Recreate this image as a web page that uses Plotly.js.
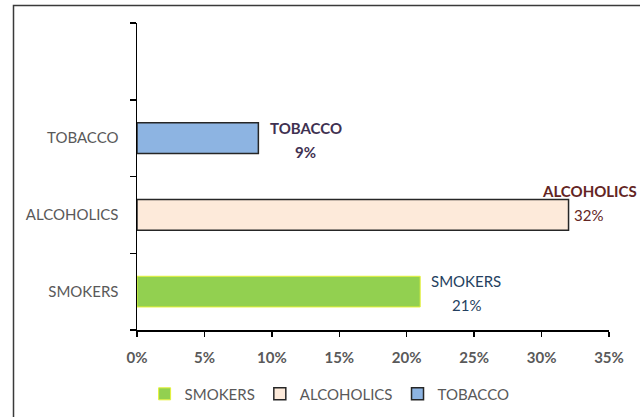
<!DOCTYPE html>
<html>
<head>
<meta charset="utf-8">
<script src="https://cdn.plot.ly/plotly-3.0.1.min.js"></script>
<style>html,body{margin:0;padding:0;background:#fff;}#chart{width:640px;height:417px;}</style>
</head>
<body>
<div id="chart"></div>
<script>
const categories = ['SMOKERS', 'ALCOHOLICS', 'TOBACCO', ' '];
const seriesNames = ['SMOKERS', 'ALCOHOLICS', 'TOBACCO'];
const seriesValues = [21, 32, 9];
const xTickVals = [0, 5, 10, 15, 20, 25, 30, 35];
const xTickText = ['0%', '5%', '10%', '15%', '20%', '25%', '30%', '35%'];

const fills = ['#92D050', '#FDEADA', '#8DB4E2'];
const borders = ['#E6F23A', '#262626', '#262626'];
const labelColors = ['#243F60', '#632523', '#3F3151'];

const FONT = 'Lato, "Open Sans", sans-serif';
const FS = 15;

const traces = seriesNames.map((name, i) => ({
  type: 'bar',
  orientation: 'h',
  name: name,
  y: [categories[i]],
  x: [seriesValues[i]],
  width: 0.4,
  marker: {color: fills[i], line: {color: borders[i], width: i === 0 ? 1 : 1.5}},
  hoverinfo: 'none'
}));

function ann(i, text, xshift, yshift, anchor, bold) {
  return {x: seriesValues[i], y: categories[i], xref: 'x', yref: 'y', showarrow: false,
    text: bold ? '<b>' + text + '</b>' : text, xanchor: anchor, yanchor: 'middle',
    xshift: xshift, yshift: yshift,
    font: {family: FONT, size: FS, color: labelColors[i]}};
}

const annotations = [
  ann(0, seriesNames[0], 46, 11, 'center', false),
  ann(0, seriesValues[0] + '%', 46, -13, 'center', false),
  ann(1, seriesNames[1], -29, 24, 'left', true),
  ann(1, seriesValues[1] + '%', 3, 0, 'left', false),
  ann(2, seriesNames[2], 47.5, 10.5, 'center', true),
  ann(2, seriesValues[2] + '%', 47.5, -13.5, 'center', true)
];

const layout = {
  width: 640, height: 417,
  margin: {l: 137, r: 31, t: 23, b: 87, pad: 0},
  paper_bgcolor: '#ffffff',
  plot_bgcolor: '#ffffff',
  barmode: 'overlay',
  showlegend: true,
  legend: {orientation: 'h', xref: 'container', yref: 'container',
           x: 0.515, xanchor: 'center', y: 0.055, yanchor: 'middle',
           font: {family: FONT, size: FS, color: '#595959'},
           traceorder: 'normal', bgcolor: 'rgba(0,0,0,0)'},
  xaxis: {
    range: [0, 35], tickvals: xTickVals, ticktext: xTickText,
    showgrid: false, zeroline: false, showline: true, linecolor: '#000', linewidth: 1.5,
    ticks: 'outside', ticklen: 5, tickcolor: '#000', tickwidth: 1.5,
    tickfont: {family: FONT, size: FS, color: '#595959', weight: 'bold'},
    ticklabelstandoff: 8,
    fixedrange: true
  },
  yaxis: {
    type: 'category', categoryorder: 'array', categoryarray: categories,
    range: [-0.5, 3.5],
    showgrid: false, zeroline: false, showline: true, linecolor: '#000', linewidth: 1.5,
    ticks: 'outside', ticklen: 6, tickcolor: '#000', tickwidth: 1.5, tickson: 'boundaries',
    tickfont: {family: FONT, size: FS, color: '#595959'},
    ticklabelstandoff: 14,
    fixedrange: true
  },
  shapes: [
    {type: 'rect', xref: 'paper', yref: 'paper',
     x0: (13.5 - 137) / 472, x1: (660 - 137) / 472,
     y0: (330 - 440) / 307, y1: (330 - 5.5) / 307,
     line: {color: '#3a3a3a', width: 1.5}, fillcolor: 'rgba(0,0,0,0)', layer: 'below'}
  ],
  annotations: annotations
};

Plotly.newPlot('chart', traces, layout, {displayModeBar: false, staticPlot: true});
</script>
</body>
</html>
